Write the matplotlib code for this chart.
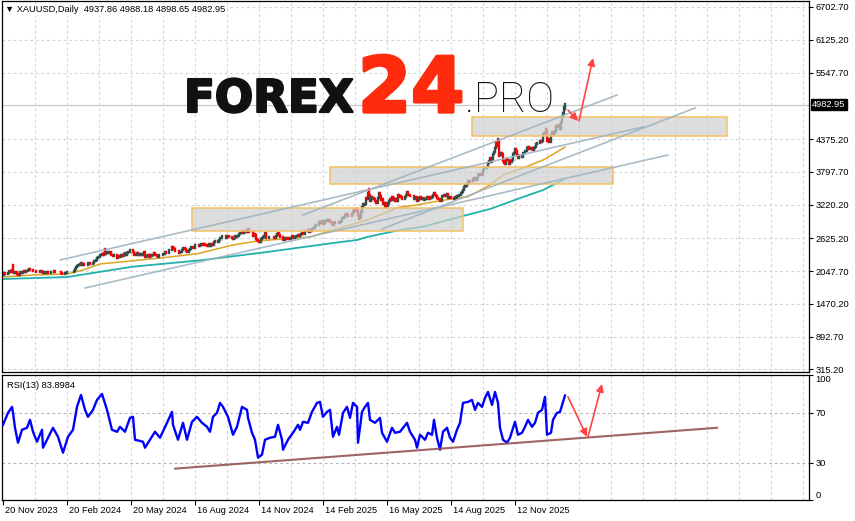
import matplotlib
matplotlib.use("Agg")
import matplotlib.pyplot as plt
import matplotlib.transforms as mtransforms
import matplotlib.patheffects as pe
from matplotlib.patches import Rectangle
from matplotlib.collections import LineCollection

plt.rcParams['font.family'] = ['Liberation Sans', 'DejaVu Sans']

# ---------------- data ----------------
symbol_title = "XAUUSD,Daily"
title_ohlc = ["4937.86", "4988.18", "4898.65", "4982.95"]
last_price = 4982.95
first_open = 1980.0

# daily closes, one per bar (bar 0 = 20 Nov 2023)
closes = [
    1977, 2007, 1990, 1992, 2002,   2014, 2041, 2044, 2036, 2072,
    2029, 2019, 2025, 2028, 2004,   1981, 1979, 2027, 2036, 2019,
    2027, 2040, 2031, 2045, 2053,   2067, 2077, 2065, 2063,
    2059, 2042, 2043, 2045,         2027, 2030, 2024, 2029, 2049,
    2055, 2028, 2006, 2023, 2029,   2021, 2029, 2014, 2020, 2018,
    2032, 2037, 2039, 2054, 2039,   2025, 2035, 2034, 2034, 2024,
    2020, 1992, 1992, 2004, 2013,   2017, 2025, 2025, 2024, 2035,
    2031, 2029, 2034, 2044, 2083,   2114, 2128, 2148, 2159, 2179,
    2182, 2158, 2175, 2162, 2155,   2160, 2157, 2186, 2181, 2166,
    2172, 2179, 2194, 2233, 2233,   2250, 2280, 2300, 2291, 2330,
    2339, 2352, 2333, 2373, 2344,   2383, 2383, 2361, 2379, 2391,
    2327, 2322, 2316, 2332, 2337,   2335, 2286, 2320, 2303, 2301,
    2323, 2314, 2309, 2346, 2360,   2336, 2357, 2386, 2376, 2415,
    2425, 2421, 2379, 2329, 2334,   2351, 2360, 2338, 2343, 2327,
    2350, 2327, 2355, 2376, 2294,   2311, 2316, 2325, 2303, 2333,
    2319, 2329, 2328, 2360, 2322,   2334, 2319, 2298, 2327, 2326,
    2332, 2330, 2356, 2356, 2392,   2359, 2364, 2371, 2415, 2411,
    2422, 2469, 2459, 2445, 2400,   2396, 2409, 2398, 2364, 2387,
    2384, 2410, 2448, 2446, 2443,   2409, 2390, 2382, 2427, 2431,
    2472, 2465, 2447, 2456, 2507,   2504, 2514, 2512, 2485, 2512,
    2518, 2524, 2505, 2520, 2503,   2500, 2493, 2495, 2516, 2497,
    2505, 2516, 2512, 2558, 2578,   2582, 2569, 2560, 2587, 2622,
    2628, 2657, 2657, 2672, 2658,   2634, 2662, 2659, 2656, 2653,
    2644, 2622, 2608, 2630, 2657,   2649, 2662, 2674, 2693, 2721,
    2719, 2749, 2715, 2736, 2747,   2743, 2774, 2788, 2744, 2736,
    2736, 2743, 2659, 2706, 2685,   2619, 2598, 2573, 2565, 2563,
    2611, 2631, 2650, 2670, 2715,   2627, 2633, 2637, 2640, 2650,
    2640, 2643, 2650, 2632, 2633,   2660, 2694, 2718, 2681, 2648,
    2652, 2646, 2588, 2594, 2622,   2613, 2617, 2634, 2621,
    2606, 2624, 2659, 2640,         2636, 2648, 2662, 2670, 2690,
    2663, 2677, 2697, 2715, 2703,   2708, 2745, 2755, 2755, 2771,
    2740, 2763, 2760, 2794, 2798,   2815, 2843, 2866, 2856, 2861,
    2908, 2898, 2905, 2928, 2883,   2899, 2935, 2933, 2939, 2936,
    2951, 2915, 2916, 2876, 2858,   2893, 2918, 2920, 2911, 2910,
    2889, 2916, 2934, 2988, 2984,   3001, 3035, 3048, 3044, 3023,
    3011, 3020, 3019, 3057, 3085,   3124, 3113, 3134, 3114, 3037,
    2982, 2982, 3082, 3175, 3237,   3211, 3230, 3343, 3326,
    3424, 3381, 3288, 3349, 3319,   3344, 3317, 3288, 3239, 3241,
    3334, 3431, 3366, 3306, 3325,   3236, 3248, 3177, 3240, 3203,
    3230, 3291, 3314, 3295, 3357,   3342, 3301, 3288, 3318, 3289,
    3380, 3353, 3373, 3353, 3310,   3326, 3322, 3355, 3387, 3433,
    3385, 3388, 3370, 3369, 3368,   3368, 3323, 3333, 3348, 3274,
    3303, 3338, 3357, 3326, 3337,   3336, 3301, 3313, 3325, 3355,
    3344, 3324, 3347, 3338, 3350,   3397, 3432, 3387, 3368, 3337,
    3314, 3326, 3275, 3289, 3363,   3373, 3380, 3369, 3397, 3398,
    3342, 3348, 3356, 3335, 3336,   3332, 3316, 3347, 3339, 3372,
    3365, 3393, 3397, 3416, 3448,   3476, 3533, 3560, 3545, 3587,
    3636, 3626, 3641, 3634, 3643,   3679, 3690, 3659, 3644, 3685,
    3747, 3763, 3736, 3749, 3760,   3833, 3858, 3866, 3857, 3886,
    3960, 3985, 4040, 3976, 4018,   4110, 4143, 4208, 4326, 4252,
    4356, 4125, 4095, 4126, 4112,   3981, 3953, 3930, 4025, 4002,
    4000, 3932, 3980, 3977, 4000,   4115, 4128, 4195, 4170, 4085,
    4045, 4067, 4078, 4077, 4065,   4136, 4130, 4165, 4156, 4218,
    4230, 4205, 4207, 4210, 4198,   4190, 4208, 4228, 4280, 4300,
    4305, 4302, 4340, 4330, 4340,   4445, 4490, 4480, 4530,
    4340, 4370, 4320, 4330,         4450, 4495, 4455, 4478, 4510,
    4598, 4588, 4625, 4615, 4560,   4670, 4765, 4830, 4937.86, 4982.95,
]

# notable wick extremes (bar index -> price)
wick_high = {10: 2146, 102: 2431, 366: 3500, 495: 4381, 543: 4550, 562: 4988.18}
wick_low = {356: 2957, 496: 4082, 562: 4898.65}

# moving averages (bar index, value)
ma_fast_idx = [0, 30, 64, 80, 97, 130, 164, 195, 230, 254, 280, 307, 330, 364,
               397, 414, 430, 454, 464, 474, 487, 500, 520, 540, 554, 562]
ma_fast_val = [1942, 1978, 1995, 2066, 2172, 2230, 2290, 2355, 2507, 2577, 2613, 2648, 2771, 2947,
               3177, 3212, 3265, 3335, 3353, 3441, 3565, 3741, 3864, 4005, 4146, 4234]
ma_slow_idx = [0, 64, 130, 197, 264, 330, 354, 364, 397, 420, 460, 487, 520, 540, 560]
ma_slow_val = [1907, 1942, 2125, 2236, 2383, 2542, 2595, 2648, 2771, 2830, 3018, 3141, 3353, 3476, 3653]

# RSI(13) (bar index, value)
rsi_idx = [0, 5, 9, 10, 12, 15, 19, 24, 27, 30, 34, 39, 40, 44, 50, 55, 60, 65, 70, 74,
           78, 82, 85, 90, 94, 99, 104, 109, 114, 117, 122, 127, 130, 132, 140, 142, 152, 157, 164, 169,
           170, 175, 180, 184, 189, 194, 199, 204, 207, 210, 214, 217, 220, 225, 230, 234, 239, 244, 245, 249,
           252, 255, 259, 262, 267, 272, 275, 279, 280, 285, 290, 295, 297, 300, 305, 309, 314, 317, 320, 324,
           327, 330, 334, 336, 340, 344, 347, 350, 354, 355, 359, 362, 365, 367, 372, 377, 379, 384, 389, 392,
           397, 404, 407, 412, 414, 417, 422, 425, 429, 431, 434, 437, 440, 444, 447, 450, 454, 457, 460, 465,
           469, 472, 475, 479, 482, 485, 489, 492, 495, 497, 500, 504, 507, 512, 515, 519, 522, 525, 529, 532,
           535, 539, 542, 544, 548, 550, 554, 557, 560, 562]
rsi_val = [60.4, 70, 74.8, 70, 58, 46, 56.4, 58, 64.4, 54.8, 46.8, 56.4, 42, 48.4, 58, 50.8, 38, 50.8, 56.4, 74.8,
           84.4, 72.4, 66.8, 72.4, 80.4, 85.2, 72.4, 56.4, 54.8, 58.8, 54.8, 66, 66.8, 48.4, 46.8, 42, 54.8, 50, 62, 70.8,
           60.4, 48.4, 62, 48.4, 62.8, 66.8, 62, 58.8, 54.8, 66.8, 70, 78, 74.8, 66.8, 52.4, 58.8, 74.8, 72.4, 66, 54,
           48.4, 34, 36.4, 48.4, 50, 50.8, 60.4, 48.4, 40.4, 48.4, 54, 60.4, 56.4, 62.8, 62, 70.8, 78, 78.8, 66.8, 70.8,
           72.4, 50.8, 58.8, 52.4, 70, 74.8, 66, 78, 74.8, 46, 70.8, 74.8, 78, 64.4, 62, 66, 54, 46.8, 58, 54,
           54.8, 62, 54.8, 48.4, 42, 52.4, 48.4, 54, 52.4, 64.4, 50, 40.4, 54.8, 58, 50, 46.8, 56.4, 62, 78, 78.8,
           80.4, 72.4, 78, 74.8, 82, 86.8, 76.4, 86.8, 78, 58, 48.4, 46, 50, 62.8, 52.4, 54, 58.8, 64.4, 58.8, 62,
           70, 72.4, 82.8, 52.4, 54, 64.4, 70, 70.8, 78.8, 83.9]
rsi_last = "83.8984"

x_tick_idx = [0, 64, 128, 192, 256, 320, 384, 448, 512]
x_tick_labels = ["20 Nov 2023", "20 Feb 2024", "20 May 2024", "16 Aug 2024", "14 Nov 2024",
                 "14 Feb 2025", "16 May 2025", "14 Aug 2025", "12 Nov 2025"]
price_ticks = [315.2, 892.7, 1470.2, 2047.7, 2625.2, 3220.2, 3797.7, 4375.2, 5547.7, 6125.2, 6702.7]
price_tick_labels = ["315.20", "892.70", "1470.20", "2047.70", "2625.20", "3220.20", "3797.70",
                     "4375.20", "5547.70", "6125.20", "6702.70"]
rsi_ticks = [0, 30, 70, 100]
rsi_levels = [30, 70]

# chart objects (bar index, price)
zones = [(189, 460, 2754, 3159), (327, 610, 3582, 3882), (469, 724, 4428, 4763)]
trend_lines = [((57, 2242), (640, 4587)), ((82, 1749), (665, 4093)),
               ((300, 3036), (614, 5151)), ((379, 2789), (692, 4922))]
price_arrows = [((565, 4887), (575, 4693)), ((576, 4693), (590, 5803))]
rsi_arrows = [((565, 82.8), (584, 50.8)), ((585, 50.8), (599, 93.2))]
rsi_trend = ((172, 25.2), (714, 58.0))

# ---------------- layout ----------------
W, H = 855, 521
fig = plt.figure(figsize=(W / 100, H / 100), dpi=100, facecolor="white")


def fx(x):
    return x / W


def fy(y):
    return 1 - y / H


ax = fig.add_axes([fx(2), fy(372), (809 - 2) / W, (372 - 0.5) / H])
ax2 = fig.add_axes([fx(2), fy(500), (809 - 2) / W, (500 - 374.5) / H])

XMIN, XMAX = -1, 806
ax.set_xlim(XMIN, XMAX)
ax2.set_xlim(XMIN, XMAX)
ax.set_ylim(268, 6817)
ax2.set_ylim(0.4, 100.8)

grid_kw = dict(color="#d4d4d4", lw=0.8, dashes=(2.5, 2.5), zorder=0)
for gx in range(32, 806, 32):
    ax.axvline(gx, **grid_kw)
    ax2.axvline(gx, **grid_kw)
for py in price_ticks:
    ax.axhline(py, **grid_kw)
for lv in rsi_levels:
    ax2.axhline(lv, color="#b4b4b4", lw=0.8, dashes=(2.5, 2.5), zorder=0)

# bid line
ax.axhline(last_price, color="#c8c8c8", lw=0.9, zorder=1)

# candles (drawn in bar order)
opens = [first_open] + closes[:-1]
segs, cols = [], []
for i, (o, c) in enumerate(zip(opens, closes)):
    lo, hi = min(o, c), max(o, c)
    if i in wick_high:
        hi = max(hi, wick_high[i])
    if i in wick_low:
        lo = min(lo, wick_low[i])
    segs.append([(i, lo), (i, hi)])
    cols.append("#2f4f4f" if c >= o else "#ff0000")
lc = LineCollection(segs, colors=cols, linewidths=1.7, zorder=3, capstyle="projecting")
ax.add_collection(lc)

# moving averages
ax.plot(ma_fast_idx, ma_fast_val, color="#daa520", lw=1.1, zorder=2)
ax.plot(ma_slow_idx, ma_slow_val, color="#20b2aa", lw=1.3, zorder=2)

# zones
for x0, x1, y0, y1 in zones:
    ax.add_patch(Rectangle((x0, y0), x1 - x0, y1 - y0, facecolor="#cfcfcf", alpha=0.7,
                           edgecolor="none", zorder=4))
    ax.add_patch(Rectangle((x0, y0), x1 - x0, y1 - y0, facecolor="none",
                           edgecolor="#f2c063", lw=1.1, zorder=5))

# trend lines
for (xa, ya), (xb, yb) in trend_lines:
    ax.plot([xa, xb], [ya, yb], color="#9fb4c1", lw=1.2, alpha=0.9, zorder=6)

# arrows
arrow_kw = dict(arrowstyle="-|>", color="#ff4444", lw=1.2, mutation_scale=11, shrinkA=0, shrinkB=0)
for (xa, ya), (xb, yb) in price_arrows:
    ax.annotate("", xy=(xb, yb), xytext=(xa, ya), arrowprops=arrow_kw, zorder=7)
for (xa, ya), (xb, yb) in rsi_arrows:
    ax2.annotate("", xy=(xb, yb), xytext=(xa, ya), arrowprops=arrow_kw, zorder=7)

# RSI
ax2.plot(rsi_idx, rsi_val, color="#0000ff", lw=1.7, zorder=3)
(ra, rb) = rsi_trend
ax2.plot([ra[0], rb[0]], [ra[1], rb[1]], color="#8e4a4a", lw=1.5, alpha=0.85, zorder=4)

# axes styling
FS = 6.7
for a in (ax, ax2):
    for s in a.spines.values():
        s.set_color("black")
        s.set_linewidth(0.9)
    a.set_facecolor("white")

ax.set_xticks([])
ax.yaxis.tick_right()
ax.set_yticks(price_ticks)
ax.set_yticklabels(price_tick_labels)
ax.tick_params(axis="y", direction="out", length=3, width=0.8, pad=1.5, labelsize=FS, colors="black")

ax2.yaxis.tick_right()
ax2.set_yticks(rsi_ticks)
ax2.set_yticklabels([str(t) for t in rsi_ticks])
ax2.tick_params(axis="y", direction="out", length=3, width=0.8, pad=1.5, labelsize=FS, colors="black")
for lab, t in zip(ax2.get_yticklabels(), rsi_ticks):
    if t == 100:
        lab.set_verticalalignment("top")
    elif t == 0:
        lab.set_verticalalignment("bottom")

ax2.set_xticks(x_tick_idx)
ax2.set_xticklabels([])
ax2.tick_params(axis="x", direction="out", length=3.5, width=0.8, colors="black")
tr = mtransforms.blended_transform_factory(ax2.transData, ax2.transAxes)
for xi, lab in zip(x_tick_idx, x_tick_labels):
    ax2.text(xi + 1.5, -0.08, lab, transform=tr, ha="left", va="center", fontsize=FS, color="black")

# last price label
trp = mtransforms.blended_transform_factory(ax.transAxes, ax.transData)
ax.text(1.004, last_price, "4982.95", transform=trp, ha="left", va="center", fontsize=FS,
        color="white", bbox=dict(facecolor="black", edgecolor="black", pad=0.8), zorder=10, clip_on=False)

# header texts
fig.text(fx(5), fy(10), "\u25BC " + symbol_title + "  " + " ".join(title_ohlc), fontsize=FS,
         ha="left", va="center", color="black",
         bbox=dict(facecolor="white", edgecolor="none", pad=1.0))
fig.text(fx(7), fy(385), "RSI(13) " + rsi_last, fontsize=FS, ha="left", va="center", color="black")

# logo
fig.text(fx(184), fy(112), "FOREX", fontsize=32.5, fontweight="bold", family="DejaVu Sans",
         color="#111111", ha="left", va="baseline", zorder=20,
         path_effects=[pe.withStroke(linewidth=1.6, foreground="#111111")])
fig.text(fx(358), fy(112), "24", fontsize=55, fontweight="bold", family="DejaVu Sans",
         color="#fe2b0c", ha="left", va="baseline", zorder=20,
         path_effects=[pe.withStroke(linewidth=2.4, foreground="#fe2b0c")])
fig.text(fx(465), fy(112), ".PRO", fontsize=30, fontweight="light", family=["Roboto", "DejaVu Sans"],
         color="#111111", ha="left", va="baseline", zorder=20)

fig.savefig("out.png", dpi=100, facecolor="white")
